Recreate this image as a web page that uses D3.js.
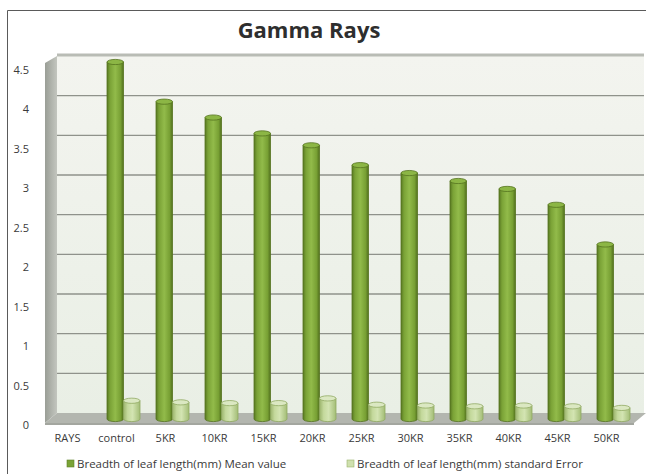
<!DOCTYPE html>
<html>
<head>
<meta charset="utf-8">
<script src="https://cdn.jsdelivr.net/npm/d3@7"></script>
<style>
  html, body { margin: 0; padding: 0; background: #fff; }
  svg { display: block; }
  text { font-family: "Open Sans", "Liberation Sans", sans-serif; fill: #3a3a3a; }
</style>
</head>
<body>
<svg id="chart" width="646" height="474"></svg>
<script>
// Breadth of leaf length (mm) under gamma irradiation doses
const categories  = ["RAYS", "control", "5KR", "10KR", "15KR", "20KR", "25KR", "30KR", "35KR", "40KR", "45KR", "50KR"];
const meanValues  = [null, 4.5, 4.0, 3.8, 3.6, 3.45, 3.2, 3.1, 3.0, 2.9, 2.7, 2.2];
const errorValues = [null, 0.23, 0.21, 0.2, 0.2, 0.26, 0.18, 0.17, 0.16, 0.17, 0.16, 0.14];
const yTicks      = [0, 0.5, 1, 1.5, 2, 2.5, 3, 3.5, 4, 4.5];
const seriesKeys  = ["mean", "se"];
const seriesNames = ["Breadth of leaf length(mm) Mean value", "Breadth of leaf length(mm) standard Error"];
const chartTitle  = "Gamma Rays";

const svg = d3.select("#chart");
const W = 646, H = 474;

// pseudo-3D box: back wall, left side wall, floor
const back = { left: 57, right: 644 };
const depth = { dx: -12, dy: 10 };

const yBack = d3.scaleLinear().domain([0, 4.5]).range([413, 56]);   // back wall plane
const yBar  = d3.scaleLinear().domain([0, 4.5]).range([419, 62]);   // column plane
const yAxis = d3.scaleLinear().domain([0, 4.5]).range([425, 70]);   // front plane (labels)

const x = d3.scaleBand().domain(categories).range([50, 638])
  .paddingInner(16 / 49).paddingOuter(8 / 49);
const xSub = d3.scaleBand().domain(seriesKeys).range([0, x.bandwidth()]);
const xFront = d3.scaleBand().domain(categories).range([43, 631])
  .paddingInner(16 / 49).paddingOuter(8 / 49);

const defs = svg.append("defs");
function hGrad(id, stops) {
  const g = defs.append("linearGradient").attr("id", id)
    .attr("x1", "0%").attr("x2", "100%").attr("y1", "0%").attr("y2", "0%");
  stops.forEach(([o, c]) => g.append("stop").attr("offset", o).attr("stop-color", c));
}
function vGrad(id, stops) {
  const g = defs.append("linearGradient").attr("id", id)
    .attr("x1", "0%").attr("x2", "0%").attr("y1", "0%").attr("y2", "100%");
  stops.forEach(([o, c]) => g.append("stop").attr("offset", o).attr("stop-color", c));
}
hGrad("meanBody", [["0%", "#587822"], ["18%", "#7aa236"], ["50%", "#92bb4a"], ["82%", "#78a034"], ["100%", "#52701e"]]);
hGrad("seBody",   [["0%", "#9bb46c"], ["25%", "#c4d99c"], ["55%", "#d3e4b2"], ["100%", "#a3bd76"]]);
vGrad("wall",     [["0%", "#f3f4ef"], ["100%", "#e9efe5"]]);
hGrad("side",     [["0%", "#9a9e96"], ["100%", "#c3c6bf"]]);

// outer frame (left and top edges)
svg.append("path").attr("d", `M7.5,${H} V10.5 H${W}`)
  .attr("fill", "none").attr("stroke", "#5a5a5a").attr("stroke-width", 1);

// title
svg.append("text").attr("x", 309).attr("y", 38).attr("text-anchor", "middle")
  .style("font-size", "22px").style("font-weight", "bold").style("fill", "#2e2e2e")
  .text(chartTitle);

// back wall
svg.append("rect").attr("x", back.left).attr("y", yBack(4.5))
  .attr("width", back.right - back.left).attr("height", yBack(0) - yBack(4.5))
  .attr("fill", "url(#wall)");
svg.append("line").attr("x1", back.left).attr("x2", back.right)
  .attr("y1", yBack(4.5) - 1).attr("y2", yBack(4.5) - 1)
  .attr("stroke", "#b9bcb5").attr("stroke-width", 3);

// gridlines on the back wall
svg.append("g").selectAll("line").data(yTicks.filter(t => t > 0 && t < 4.5)).join("line")
  .attr("x1", back.left).attr("x2", back.right)
  .attr("y1", d => yBack(d)).attr("y2", d => yBack(d))
  .attr("stroke", "#8f928b").attr("stroke-width", 1.4);

// left side wall
svg.append("polygon")
  .attr("points", [
    [back.left, yBack(4.5)], [back.left, yBack(0)],
    [back.left + depth.dx, yBack(0) + depth.dy], [back.left + depth.dx, yBack(4.5) + 7]
  ].map(p => p.join(",")).join(" "))
  .attr("fill", "url(#side)");

// floor
svg.append("polygon")
  .attr("points", [
    [back.left, yBack(0)], [back.right + 2, yBack(0)],
    [back.right + 2 + depth.dx, yBack(0) + depth.dy], [back.left + depth.dx, yBack(0) + depth.dy]
  ].map(p => p.join(",")).join(" "))
  .attr("fill", "#b3b6af");
svg.append("rect").attr("x", back.left + depth.dx).attr("y", yBack(0) + depth.dy)
  .attr("width", back.right - back.left + 2).attr("height", 2).attr("fill", "#a3a69f");

// cylinder columns
function cylinder(g, x0, w, v, body, topFill, stroke) {
  const yt = yBar(v), yb = yBar(0), rx = w / 2, ry = 2.6;
  g.append("path")
    .attr("d", `M${x0},${yt} V${yb} A${rx},${ry} 0 0 0 ${x0 + w},${yb} V${yt} Z`)
    .attr("fill", `url(#${body})`).attr("stroke", stroke).attr("stroke-width", 0.8);
  g.append("ellipse").attr("cx", x0 + rx).attr("cy", yt).attr("rx", rx).attr("ry", ry)
    .attr("fill", topFill).attr("stroke", stroke).attr("stroke-width", 0.8);
}

const bars = svg.append("g");
categories.forEach((c, i) => {
  if (meanValues[i] != null) {
    cylinder(bars, x(c) + xSub("mean"), xSub.bandwidth(), meanValues[i], "meanBody", "#8cb645", "#55731f");
  }
  if (errorValues[i] != null) {
    cylinder(bars, x(c) + xSub("se"), xSub.bandwidth(), errorValues[i], "seBody", "#dbe8c2", "#90aa62");
  }
});

// y axis labels
const gy = svg.append("g").attr("transform", "translate(29,0)")
  .call(d3.axisLeft(yAxis).tickValues(yTicks).tickSize(0).tickPadding(0)
    .tickFormat(d => String(d)));
gy.select(".domain").remove();
gy.selectAll("text").style("font-size", "11px").style("fill", "#3a3a3a")
  .style("font-family", "'Open Sans', sans-serif");

// x axis labels
const gx = svg.append("g").attr("transform", "translate(0,434)")
  .call(d3.axisBottom(xFront).tickSize(0).tickPadding(0));
gx.select(".domain").remove();
gx.selectAll("text").style("font-size", "11px").style("fill", "#3a3a3a")
  .style("font-family", "'Open Sans', sans-serif");

// legend
const legendX = [67, 347];
const legendFill = ["#7aa336", "#cfe0ae"];
const legendStroke = ["#5f8028", "#9ab36c"];
const lg = svg.append("g");
seriesNames.forEach((name, i) => {
  lg.append("rect").attr("x", legendX[i]).attr("y", 460).attr("width", 7).attr("height", 7)
    .attr("fill", legendFill[i]).attr("stroke", legendStroke[i]).attr("stroke-width", 0.6);
  lg.append("text").attr("x", legendX[i] + 10).attr("y", 468)
    .style("font-size", "11.5px").text(name);
});
</script>
</body>
</html>
